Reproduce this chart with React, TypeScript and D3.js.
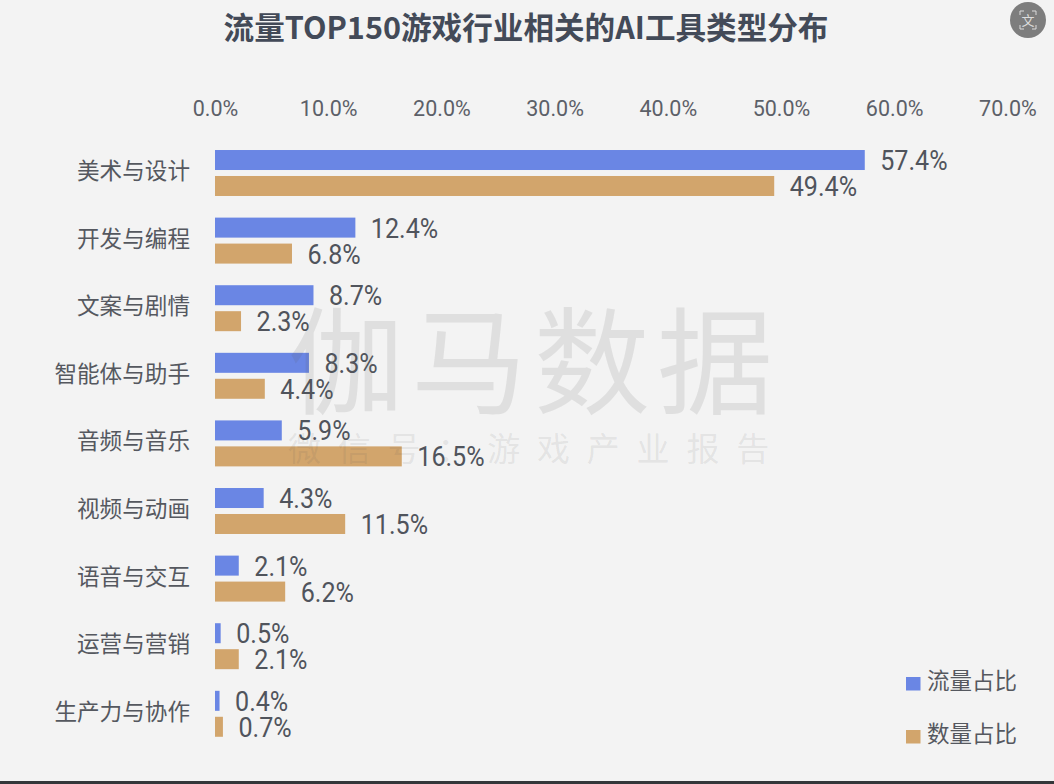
import React, { useEffect, useRef } from 'react';
import * as d3 from 'd3';

const categories = ['美术与设计', '开发与编程', '文案与剧情', '智能体与助手', '音频与音乐', '视频与动画', '语音与交互', '运营与营销', '生产力与协作'];
const trafficShare = [57.4, 12.4, 8.7, 8.3, 5.9, 4.3, 2.1, 0.5, 0.4];
const countShare = [49.4, 6.8, 2.3, 4.4, 16.5, 11.5, 6.2, 2.1, 0.7];
const seriesNames = ['流量占比', '数量占比'];
const seriesColors = ['#6a86e4', '#d2a56c'];
const tickValues = [0, 10, 20, 30, 40, 50, 60, 70];

const width = 1054;
const height = 784;
const cjk = '"Noto Sans CJK SC", "Noto Sans", sans-serif';
const latin = '"Roboto", sans-serif';

const x = d3.scaleLinear().domain([0, 70]).range([215, 1007.4]);
const y = d3.scaleBand<string>().domain(categories).range([139.2, 747.6]).paddingInner(0.32).paddingOuter(0.16);
const inner = d3.scaleBand<string>().domain(seriesNames).range([0, y.bandwidth()]).paddingInner(0.23);
const values = [trafficShare, countShare];

export default function App() {
  const axisRef = useRef<SVGGElement>(null);

  useEffect(() => {
    if (!axisRef.current) return;
    const g = d3.select(axisRef.current);
    g.call(d3.axisTop(x).tickValues(tickValues).tickSize(0).tickPadding(0).tickFormat(d => `${(+d).toFixed(1)}%`));
    g.select('.domain').remove();
    g.selectAll('text')
      .attr('fill', '#5c6068')
      .attr('font-size', 21.5)
      .attr('font-family', latin);
  }, []);

  return (
    <svg width={width} height={height} style={{ position: 'absolute', left: 0, top: 0, display: 'block' }}>
      <rect width={width} height={height} fill="#f3f3f3" />
      <rect y={781} width={width} height={3} fill="#34373a" />

      <text x={526} y={39} textAnchor="middle" fontFamily={cjk} fontWeight={700} fontSize={30.6} fill="#434a58">
        流量TOP150游戏行业相关的AI工具类型分布
      </text>

      {/* translate button in the corner of the screenshot */}
      <circle cx={1028} cy={20} r={18} fill="#7d7d7d" />
      <text x={1028} y={25} textAnchor="middle" fontFamily={cjk} fontSize={13} fill="#dcdcdc">文</text>
      <path d="M1020 15v-4h4M1032 11h4v4M1036 25v4h-4M1024 29h-4v-4" fill="none" stroke="#dcdcdc" strokeWidth={1} />

      <g ref={axisRef} transform="translate(0,116)" />

      {categories.map((c, i) => (
        <g key={c} transform={`translate(0,${y(c)})`}>
          <text x={190} y={y.bandwidth() / 2 + 6} textAnchor="end" fontFamily={cjk} fontSize={22.6} fill="#55585f">{c}</text>
          {seriesNames.map((s, j) => (
            <g key={s}>
              <rect
                x={x(0)}
                y={inner(s)}
                width={x(values[j][i]) - x(0)}
                height={inner.bandwidth()}
                fill={seriesColors[j]}
              />
              {/* the DIN style labels are narrower than Roboto, so squeeze them */}
              <text
                transform={`translate(${x(values[j][i]) + 15.5},${inner(s)! + inner.bandwidth() / 2 + 10}) scale(0.93,1)`}
                fontFamily={latin}
                fontSize={27}
                fill="#50545c"
              >
                {values[j][i].toFixed(1)}%
              </text>
            </g>
          ))}
        </g>
      ))}

      {seriesNames.map((s, j) => (
        <g key={s} transform={`translate(906,${677 + j * 53})`}>
          <rect width={14.5} height={13.5} fill={seriesColors[j]} />
          <text x={21} y={12} fontFamily={cjk} fontSize={22.5} fill="#55585f">{s}</text>
        </g>
      ))}

      {/* watermark sits over the bars */}
      <text x={288} y={405} fontFamily={cjk} fontWeight={400} fontSize={116} letterSpacing={7} fill="#5a5a5a" fillOpacity={0.13}>伽马数据</text>
      <text x={288} y={461} fontFamily={cjk} fontWeight={400} fontSize={33} letterSpacing={16.8} fill="#5a5a5a" fillOpacity={0.11}>微信号：游戏产业报告</text>
    </svg>
  );
}
